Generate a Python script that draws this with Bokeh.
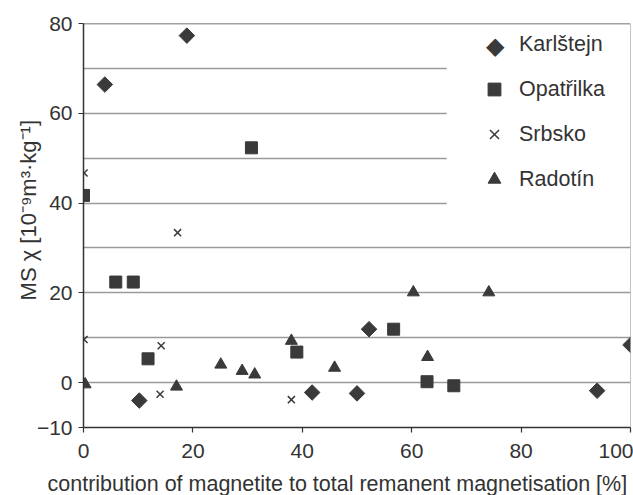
from bokeh.plotting import figure
from bokeh.models import Range1d, FixedTicker, Legend, LegendItem, BoxAnnotation, Span, Label, Title
from bokeh.embed import file_html
from bokeh.resources import INLINE
import math

# ---- data ----
karlstejn_x = [3.9, 18.9, 10.2, 41.8, 52.2, 50.0, 93.9, 100.0]
karlstejn_y = [66.4, 77.3, -4.0, -2.2, 11.9, -2.4, -1.8, 8.4]
opatrilka_x = [0.0, 30.7, 5.9, 9.1, 11.8, 39.0, 56.7, 62.8, 67.7]
opatrilka_y = [41.7, 52.3, 22.4, 22.4, 5.3, 6.8, 11.9, 0.2, -0.7]
srbsko_x = [0.1, 17.2, 0.1, 14.2, 14.0, 38.0]
srbsko_y = [46.7, 33.4, 9.6, 8.2, -2.6, -3.8]
radotin_x = [0.3, 17.0, 25.1, 29.0, 31.3, 38.0, 45.9, 60.3, 74.1, 62.9]
radotin_y = [-0.4, -0.9, 4.0, 2.6, 1.8, 9.3, 3.3, 20.1, 20.1, 5.7]

series_names = ["Karlštejn", "Opatřilka", "Srbsko", "Radotín"]
x_ticks = [0, 20, 40, 60, 80, 100]
y_ticks = [-10, 0, 20, 40, 60, 80]
y_grid = [0, 10, 20, 30, 40, 50, 60, 70]
x_title = "contribution of magnetite to total remanent magnetisation [%]"
y_title = "MS \u03c7 [10\u207b\u2079m\u00b3\u00b7kg\u207b\u00b9]"

FONT = "Liberation Sans"
DARK = "#3a3a3a"
TXT = "#333333"
NB = "\u00a0"

p = figure(width=633, height=495, output_backend="svg", toolbar_location=None,
           x_range=Range1d(0, 100), y_range=Range1d(-10, 80),
           min_border_left=83, min_border_right=3, min_border_top=23, min_border_bottom=67)
p.outline_line_color = None
p.background_fill_color = "white"
p.border_fill_color = "white"

# axes
for ax in (p.xaxis[0], p.yaxis[0]):
    ax.axis_line_color = "#333333"
    ax.axis_line_width = 1.5
    ax.major_tick_line_color = "#333333"
    ax.major_tick_line_width = 1.2
    ax.major_tick_in = 0
    ax.major_tick_out = 5
    ax.minor_tick_line_color = None
    ax.major_label_text_font = FONT
    ax.major_label_text_font_size = "21px"
    ax.major_label_text_color = TXT
    ax.axis_label_text_font = FONT
    ax.axis_label_text_font_style = "normal"
    ax.axis_label_text_color = TXT

p.xaxis.ticker = FixedTicker(ticks=x_ticks)
p.yaxis.ticker = FixedTicker(ticks=y_ticks)
p.yaxis.major_label_overrides = {-10: "\u221210"}
p.xaxis.major_label_standoff = 11
p.yaxis.major_label_standoff = 6

# y title as axis label (shifted up a little with leading no-break spaces)
p.yaxis.axis_label = NB * 5 + y_title
p.yaxis.axis_label_text_font_size = "22px"
p.yaxis.axis_label_standoff = -7

# small spacer under the x tick labels, then the x title, left-aligned like in the reference
p.xaxis.axis_label = NB
p.xaxis.axis_label_text_font_size = "4px"
p.xaxis.axis_label_standoff = 1
p.add_layout(Title(text=x_title, align="left", offset=-36, standoff=0,
                   text_font=FONT, text_font_size="21.5px", text_font_style="normal",
                   text_color=TXT), "below")

p.xgrid.grid_line_color = None
p.ygrid.ticker = FixedTicker(ticks=y_grid)
p.ygrid.grid_line_color = "#9a9a9a"
p.ygrid.grid_line_width = 1.5

# white area behind the legend (covers upper grid lines)
p.add_layout(BoxAnnotation(left=66.4, right=100, bottom=31, top=80,
                           fill_color="white", fill_alpha=1.0, line_color=None))
# frame borders
p.add_layout(Span(location=80, dimension="width", line_color="#444444", line_width=1.5))
p.add_layout(Span(location=100, dimension="height", line_color="#8a8a8a", line_width=1))

r1 = p.scatter(karlstejn_x, karlstejn_y, marker="square", size=11, angle=math.pi / 4,
               fill_color=DARK, line_color=DARK)
r2 = p.scatter(opatrilka_x, opatrilka_y, marker="square", size=12,
               fill_color=DARK, line_color=DARK)
r3 = p.scatter(srbsko_x, srbsko_y, marker="x", size=10, line_color=DARK, line_width=1.5)
r4 = p.scatter(radotin_x, radotin_y, marker="triangle", size=12,
               fill_color=DARK, line_color=DARK)

# legend glyph for the rotated-square marker (Bokeh legends ignore marker angle)
r1_leg = p.scatter(x=[], y=[], marker="square", size=11, fill_alpha=0, line_alpha=0)

legend = Legend(items=[LegendItem(label=n, renderers=[r]) for n, r in
                       zip(series_names, [r1_leg, r2, r3, r4])],
                location=(395, 232), glyph_width=32, glyph_height=32, label_height=32,
                spacing=13, padding=0, margin=0, label_standoff=9,
                background_fill_alpha=0, border_line_color=None,
                label_text_font=FONT, label_text_font_size="21.5px", label_text_color=TXT)
p.add_layout(legend)
p.add_layout(Label(x=411, y=382, x_units="screen", y_units="screen", text="\u25c6",
                   text_align="center", text_baseline="middle",
                   text_font=FONT, text_font_size="24px", text_color=DARK))

open("out.html", "w").write(file_html(p, INLINE))
